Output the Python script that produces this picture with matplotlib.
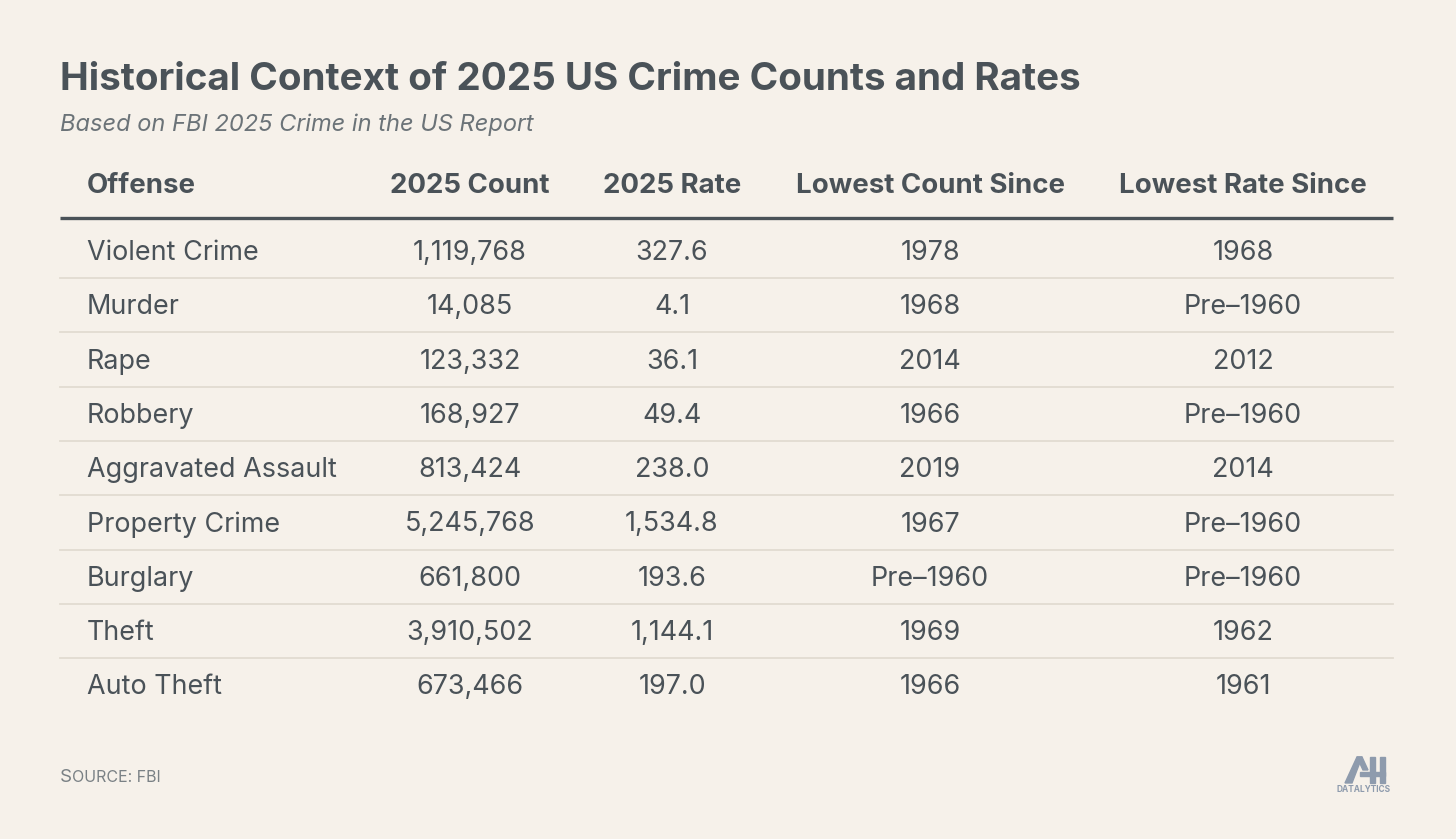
import matplotlib.pyplot as plt
from matplotlib.patches import Polygon

offenses = ['Violent Crime', 'Murder', 'Rape', 'Robbery', 'Aggravated Assault',
            'Property Crime', 'Burglary', 'Theft', 'Auto Theft']
counts = ['1,119,768', '14,085', '123,332', '168,927', '813,424',
          '5,245,768', '661,800', '3,910,502', '673,466']
rates = ['327.6', '4.1', '36.1', '49.4', '238.0', '1,534.8', '193.6', '1,144.1', '197.0']
low_count = ['1978', '1968', '2014', '1966', '2019', '1967', 'Pre-1960', '1969', '1966']
low_rate = ['1968', 'Pre-1960', '2012', 'Pre-1960', '2014', 'Pre-1960', 'Pre-1960', '1962', '1961']
headers = ['Offense', '2025 Count', '2025 Rate', 'Lowest Count Since', 'Lowest Rate Since']

bg = '#F6F1EA'
dark = '#4A5258'
grid = '#E2DBD1'
plt.rcParams['font.family'] = ['Inter', 'DejaVu Sans']

fig = plt.figure(figsize=(14.56, 8.39), dpi=100, facecolor=bg)
ax = fig.add_axes([0, 0, 1, 1])
ax.set_xlim(0, 1456)
ax.set_ylim(839, 0)
ax.axis('off')

ax.text(60, 80, 'Historical Context of 2025 US Crime Counts and Rates', fontsize=27.8,
        fontweight='bold', color=dark, va='center')
ax.text(60, 125, 'Based on FBI 2025 Crime in the US Report', fontsize=17,
        style='italic', color='#6B7378', va='center')

col_x = [87, 470, 672, 930, 1243]
aligns = ['left', 'center', 'center', 'center', 'center']
for x, h, a in zip(col_x, headers, aligns):
    ax.text(x, 186, h, fontsize=19.9, fontweight='bold', color=dark, ha=a, va='center')
ax.plot([60, 1393], [218, 218], color=dark, lw=2.4, solid_capstyle='butt')

row_h = 54.3
columns = [offenses, counts, rates, low_count, low_rate]
for i in range(len(offenses)):
    y = 251 + i * row_h
    for x, col, a in zip(col_x, columns, aligns):
        ax.text(x, y + 2, col[i].replace('-', '\u2013'), fontsize=19.4, color=dark,
                ha=a, va='center')
    if i < len(offenses) - 1:
        ax.plot([60, 1393], [y + row_h / 2, y + row_h / 2], color=grid, lw=1.3)

ax.text(60, 777, 'S', fontsize=13.5, color='#7A8185', va='center')
ax.text(72, 778, 'OURCE: FBI', fontsize=11.5, color='#7A8185', va='center')

# logo
logo = '#8E9BAD'
ax.add_patch(Polygon([[1345, 783], [1357, 757], [1362, 757], [1352, 783]], color=logo))
ax.add_patch(Polygon([[1357, 757], [1362, 757], [1368, 770], [1363, 770]], color=logo))
ax.add_patch(Polygon([[1370, 757], [1375, 757], [1375, 783], [1370, 783]], color=logo))
ax.add_patch(Polygon([[1380, 757], [1385, 757], [1385, 783], [1380, 783]], color=logo))
ax.add_patch(Polygon([[1360, 772], [1385, 772], [1385, 776], [1360, 776]], color=logo))
ax.text(1364, 790, 'DATALYTICS', fontsize=6, fontweight='bold', color=logo,
        ha='center', va='center')

fig.savefig('out.png', dpi=100, facecolor=bg)
